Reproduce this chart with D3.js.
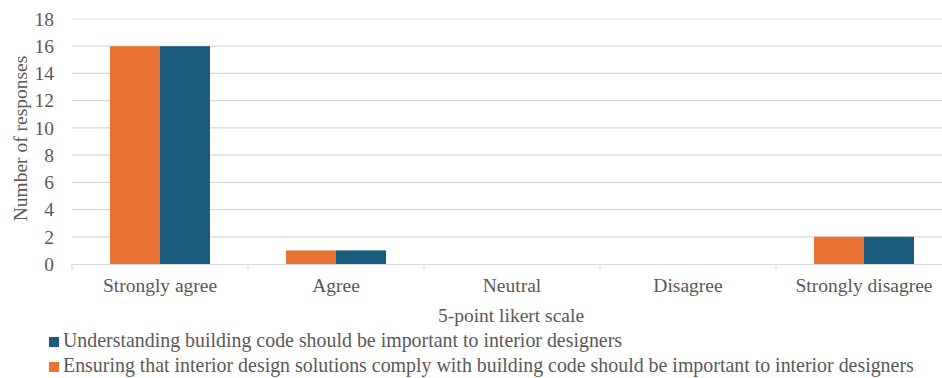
<!DOCTYPE html>
<html>
<head>
<meta charset="utf-8">
<script src="https://cdn.jsdelivr.net/npm/d3@7"></script>
<style>
  html, body { margin: 0; padding: 0; background: #fff; }
  svg { display: block; }
  svg text { font-family: "Liberation Serif", "Times New Roman", serif; }
</style>
</head>
<body>
<svg id="chart" width="942" height="378"></svg>
<script>
const categories = ["Strongly agree", "Agree", "Neutral", "Disagree", "Strongly disagree"];
const seriesNames = [
  "Ensuring that interior design solutions comply with building code should be important to interior designers",
  "Understanding building code should be important to interior designers"
];
const ensuringValues = [16, 1, 0, 0, 2];
const understandingValues = [16, 1, 0, 0, 2];
const seriesColors = ["#E97132", "#1B5C7E"];
const yTicks = [0, 2, 4, 6, 8, 10, 12, 14, 16, 18];

const allSeries = [ensuringValues, understandingValues];
const fontSize = 19.5;
const textColor = "#595959";

const svg = d3.select("#chart");
const margin = { left: 72, right: 952, top: 19, bottom: 264 };

const x = d3.scaleBand().domain(categories).range([margin.left, margin.right]).paddingInner(0).paddingOuter(0);
const inner = d3.scaleBand().domain(d3.range(allSeries.length)).range([0, x.bandwidth()]).paddingOuter(0.76).paddingInner(0);
const y = d3.scaleLinear().domain([0, 18]).range([margin.bottom, margin.top]);

// horizontal gridlines
svg.append("g")
  .selectAll("line")
  .data(yTicks.filter(d => d > 0))
  .join("line")
  .attr("x1", margin.left).attr("x2", margin.right)
  .attr("y1", d => y(d)).attr("y2", d => y(d))
  .attr("stroke", "#d9d9d9").attr("stroke-width", 1.2);

// bars
categories.forEach((c, i) => {
  allSeries.forEach((vals, s) => {
    svg.append("rect")
      .attr("x", x(c) + inner(s))
      .attr("width", inner.bandwidth())
      .attr("y", y(vals[i]))
      .attr("height", y(0) - y(vals[i]))
      .attr("fill", seriesColors[s]);
  });
});

// x axis baseline and category ticks
const xAxis = svg.append("g").attr("transform", `translate(0,${y(0)})`)
  .call(d3.axisBottom(x).tickSize(0).tickFormat(d => d));
xAxis.attr("font-family", null).attr("font-size", null);
xAxis.select(".domain").attr("stroke", "#d9d9d9").attr("stroke-width", 1.2);
xAxis.selectAll("text").attr("fill", textColor).attr("font-size", fontSize).attr("dy", "1.3em");
svg.append("g").selectAll("line")
  .data(d3.range(categories.length + 1))
  .join("line")
  .attr("x1", i => margin.left + i * x.bandwidth())
  .attr("x2", i => margin.left + i * x.bandwidth())
  .attr("y1", y(0)).attr("y2", y(0) + 6)
  .attr("stroke", "#d9d9d9").attr("stroke-width", 1.2);

// y axis labels
const yAxis = svg.append("g").attr("transform", `translate(${margin.left},0)`)
  .call(d3.axisLeft(y).tickValues(yTicks).tickSize(0).tickPadding(18));
yAxis.attr("font-family", null).attr("font-size", null);
yAxis.select(".domain").remove();
yAxis.selectAll("text").attr("fill", textColor).attr("font-size", fontSize);

// axis titles
svg.append("text")
  .attr("transform", `translate(27,${(margin.top + margin.bottom) / 2 - 3}) rotate(-90)`)
  .attr("text-anchor", "middle")
  .attr("fill", textColor).attr("font-size", fontSize)
  .text("Number of responses");

svg.append("text")
  .attr("x", 511).attr("y", 322)
  .attr("text-anchor", "middle")
  .attr("fill", textColor).attr("font-size", fontSize)
  .text("5-point likert scale");

// legend (second series listed first)
const legendOrder = [1, 0];
const legend = svg.append("g");
legendOrder.forEach((s, k) => {
  const ly = 347 + k * 25;
  legend.append("rect")
    .attr("x", 49).attr("y", ly - 10).attr("width", 10).attr("height", 10)
    .attr("fill", seriesColors[s]);
  legend.append("text")
    .attr("x", 63).attr("y", ly)
    .attr("fill", textColor).attr("font-size", 19.9)
    .text(seriesNames[s]);
});
</script>
</body>
</html>
